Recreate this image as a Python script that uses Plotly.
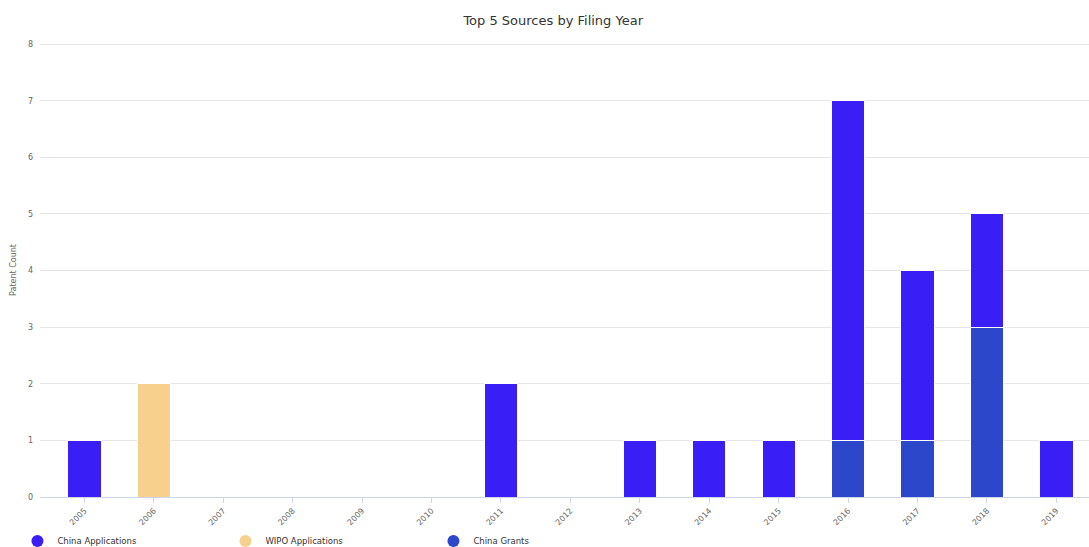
import plotly.graph_objects as go

# Filing years shown on the category axis
years = [str(y) for y in range(2005, 2020)]

# Patent counts per source and filing year
china_applications = [1, 0, 0, 0, 0, 0, 2, 0, 1, 1, 1, 6, 3, 2, 1]
wipo_applications = [0, 2, 0, 0, 0, 0, 0, 0, 0, 0, 0, 0, 0, 0, 0]
china_grants = [0, 0, 0, 0, 0, 0, 0, 0, 0, 0, 0, 1, 1, 3, 0]

series = [
    # (name, values, colour, legend rank)
    ("China Grants", china_grants, "#2C47C9", 3),
    ("WIPO Applications", wipo_applications, "#F7D08E", 2),
    ("China Applications", china_applications, "#3A1EF6", 1),
]

FONT = "DejaVu Sans"
fig = go.Figure()

for name, vals, color, rank in series:
    fig.add_trace(go.Bar(
        x=years, y=[v if v else None for v in vals], name=name,
        marker=dict(color=color, line=dict(color="#ffffff", width=1)),
        showlegend=False,
    ))

# Round legend symbols
for name, vals, color, rank in sorted(series, key=lambda s: s[3]):
    fig.add_trace(go.Scatter(
        x=[None], y=[None], mode="markers", name=name,
        marker=dict(color=color, size=8, symbol="circle"),
        legendrank=rank, showlegend=True,
    ))

fig.update_layout(
    width=1089, height=547,
    barmode="stack", bargap=0.52,
    plot_bgcolor="#ffffff", paper_bgcolor="#ffffff",
    margin=dict(l=40, r=0, t=43, b=50, autoexpand=False),
    font=dict(family=FONT, color="#666666", size=8),
    title=dict(text="Top 5 Sources by Filing Year", xref="container", x=0.508,
               xanchor="center", y=0.963, yanchor="middle",
               font=dict(family=FONT, size=13, color="#333333")),
    legend=dict(orientation="h", xref="container", yref="container",
                x=0.016, y=0.011, xanchor="left", yanchor="middle",
                bgcolor="rgba(0,0,0,0)",
                entrywidth=163, entrywidthmode="pixels",
                font=dict(family=FONT, size=8.5, color="#333333"),
                itemsizing="constant", traceorder="normal"),
    xaxis=dict(
        type="category", range=[-0.64, 14.47],
        tickangle=-45, tickfont=dict(size=8, color="#666666"),
        showgrid=False, showline=True, linecolor="#ccd6eb", linewidth=1,
        ticks="outside", ticklen=5, tickcolor="#ccd6eb", automargin=False,
    ),
    yaxis=dict(
        range=[0, 8.02], dtick=1, showgrid=True, gridcolor="#e6e6e6",
        zeroline=False, tickfont=dict(size=8, color="#666666"),
        title=dict(text="Patent Count", font=dict(size=8, color="#666666"), standoff=10),
        ticklabelstandoff=6, automargin=False,
    ),
)

fig.write_html("out.html")
